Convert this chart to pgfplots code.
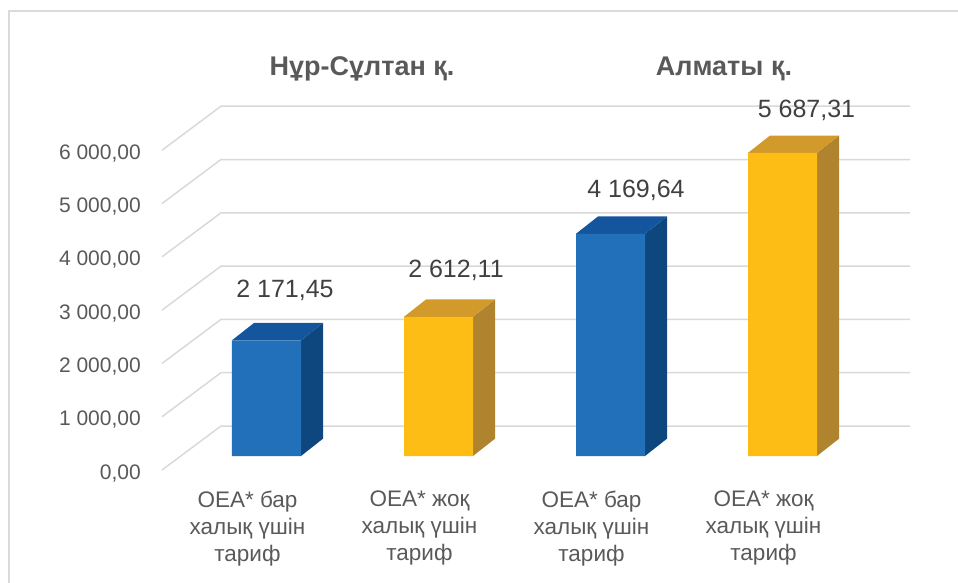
\documentclass[border=0pt]{standalone}
\usepackage{fontspec}
\setmainfont{Liberation Sans}
\usepackage{pgfplots}
\pgfplotsset{compat=1.18}

\definecolor{gridc}{HTML}{D9D9D9}
\definecolor{framec}{HTML}{DADADA}
\definecolor{txt}{HTML}{595959}
\definecolor{lbl}{HTML}{404040}
\definecolor{bluefront}{HTML}{2270BA}
\definecolor{bluetop}{HTML}{14569E}
\definecolor{blueside}{HTML}{0E467E}
\definecolor{yelfront}{HTML}{FDBD14}
\definecolor{yeltop}{HTML}{D29A2A}
\definecolor{yelside}{HTML}{B0832E}

\begin{document}
\begin{tikzpicture}
% page = 958 x 583 (1pt per pixel), axis box lower left at pixel (162,472)
\path[use as bounding box] (-162pt,-111pt) rectangle (796pt,472pt);
\draw[framec, line width=2pt] (-153pt,-111pt) -- (-153pt,461pt) -- (796pt,461pt);

\begin{axis}[
  scale only axis,
  width=748pt, height=367.77pt,
  xmin=162, xmax=910,
  ymin=-300, ymax=6600,
  clip=false,
  axis line style={draw=none},
  tick style={draw=none},
  major tick length=0pt,
  ytick={0,1000,2000,3000,4000,5000,6000},
  yticklabels={{0,00},{1 000,00},{2 000,00},{3 000,00},{4 000,00},{5 000,00},{6 000,00}},
  yticklabel style={anchor=base east, inner sep=0pt, xshift=-21pt, yshift=-23pt,
    text=txt, font=\fontsize{21}{25}\selectfont},
  xtick={247.5,419.5,591.5,763.5},
  xticklabels={{ОЕА* бар\\халық үшін\\тариф},{ОЕА* жоқ\\халық үшін\\тариф},
               {ОЕА* бар\\халық үшін\\тариф},{ОЕА* жоқ\\халық үшін\\тариф}},
  xticklabel style={align=center, anchor=north, inner sep=0pt, yshift=-19pt,
    text=txt, font=\fontsize{22.5}{26.7}\selectfont},
]
% gridlines: front stub (diagonal) then back wall line
\addplot[gridc, line width=1.5pt] coordinates {(162,-263)(221,563)(910,563)};
\addplot[gridc, line width=1.5pt] coordinates {(162,737)(221,1563)(910,1563)};
\addplot[gridc, line width=1.5pt] coordinates {(162,1737)(221,2563)(910,2563)};
\addplot[gridc, line width=1.5pt] coordinates {(162,2737)(221,3563)(910,3563)};
\addplot[gridc, line width=1.5pt] coordinates {(162,3737)(221,4563)(910,4563)};
\addplot[gridc, line width=1.5pt] coordinates {(162,4737)(221,5563)(910,5563)};
\addplot[gridc, line width=1.5pt] coordinates {(162,5737)(221,6563)(910,6563)};

% side faces
\addplot[fill=blueside, draw=none] coordinates {(301,0)(323,325)(323,2496.45)(301,2171.45)} -- cycle;
\addplot[fill=yelside, draw=none] coordinates {(473,0)(495,325)(495,2937.11)(473,2612.11)} -- cycle;
\addplot[fill=blueside, draw=none] coordinates {(645,0)(667,325)(667,4494.64)(645,4169.64)} -- cycle;
\addplot[fill=yelside, draw=none] coordinates {(817,0)(839,325)(839,6012.31)(817,5687.31)} -- cycle;
% top faces
\addplot[fill=bluetop, draw=none] coordinates {(232,2171.45)(254,2496.45)(323,2496.45)(301,2171.45)} -- cycle;
\addplot[fill=yeltop, draw=none] coordinates {(404,2612.11)(426,2937.11)(495,2937.11)(473,2612.11)} -- cycle;
\addplot[fill=bluetop, draw=none] coordinates {(576,4169.64)(598,4494.64)(667,4494.64)(645,4169.64)} -- cycle;
\addplot[fill=yeltop, draw=none] coordinates {(748,5687.31)(770,6012.31)(839,6012.31)(817,5687.31)} -- cycle;
% front faces
\addplot[ybar, bar width=69, bar shift=0pt, fill=bluefront, draw=none]
  coordinates {(266.5,2171.45) (610.5,4169.64)};
\addplot[ybar, bar width=69, bar shift=0pt, fill=yelfront, draw=none]
  coordinates {(438.5,2612.11) (782.5,5687.31)};

% value labels
\addplot[draw=none, nodes near coords, point meta=explicit symbolic,
  nodes near coords style={anchor=base, inner sep=0pt, text=lbl,
    font=\fontsize{25}{29}\selectfont}]
  coordinates {(285,2983)[2 171,45] (456,3358)[2 612,11] (636,4841)[4 169,64] (806.5,6360)[5 687,31]};

% group titles
\node[anchor=base, text=txt, font=\fontsize{27}{32}\selectfont\bfseries] at (axis cs:362,7148) {Нұр-Сұлтан қ.};
\node[anchor=base, text=txt, font=\fontsize{27}{32}\selectfont\bfseries] at (axis cs:724,7148) {Алматы қ.};
\end{axis}
\end{tikzpicture}
\end{document}
